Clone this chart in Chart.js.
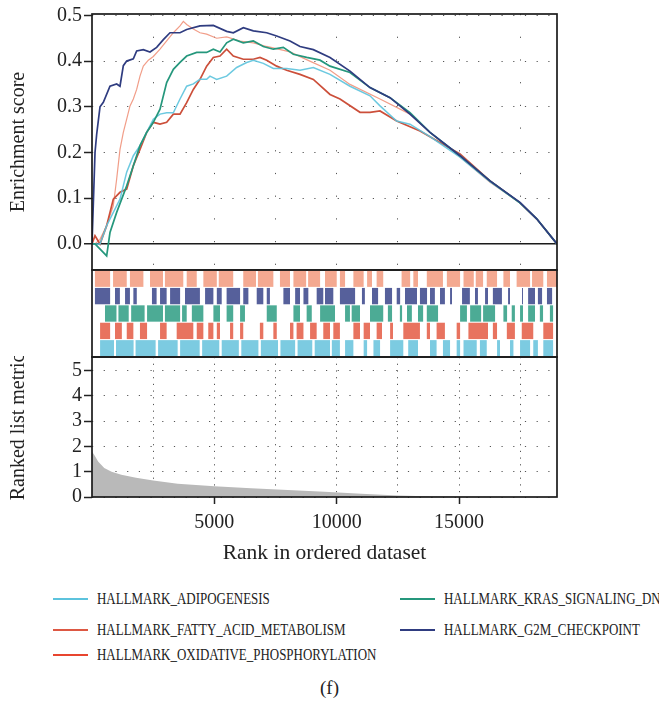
<!DOCTYPE html>
<html>
<head>
<meta charset="utf-8">
<script src="https://cdn.jsdelivr.net/npm/chart.js@4.4.1/dist/chart.umd.min.js"></script>
<style>
  html, body { margin: 0; padding: 0; background: #fff; }
  #wrap { position: relative; width: 659px; height: 706px; overflow: hidden; font-family: "Liberation Serif", serif; color: #222; }
  #wrap canvas { position: absolute; left: 0; }
  .leg { position: absolute; height: 20px; width: 300px; }
  .leg .ln { position: absolute; left: 0; top: 9px; width: 35px; height: 2px; }
  .leg .tx { position: absolute; left: 44px; top: 0; font-size: 16px; line-height: 20px; white-space: nowrap; transform: scaleX(0.81); transform-origin: left center; }
  #cap { position: absolute; left: 0; width: 659px; top: 677px; text-align: center; font-size: 19px; }
</style>
</head>
<body>
<div id="wrap">
  <canvas id="es" width="659" height="272" style="top:0"></canvas>
  <canvas id="rug" width="659" height="90" style="top:269px"></canvas>
  <canvas id="metric" width="659" height="221" style="top:356px"></canvas>
  <div id="legend"></div>
  <div id="cap">(f)</div>
</div>
<script>
// gene sets (legend order)
const geneSets = ["HALLMARK_ADIPOGENESIS", "HALLMARK_FATTY_ACID_METABOLISM", "HALLMARK_OXIDATIVE_PHOSPHORYLATION", "HALLMARK_KRAS_SIGNALING_DN", "HALLMARK_G2M_CHECKPOINT"];
const setColors = ["#5cc3dd", "#dd5843", "#e8452f", "#25977c", "#2f3c80"];

// running enrichment score, rank vs ES
const adipoRank = [0, 327, 599, 871, 1144, 1417, 1689, 1961, 2234, 2506, 2779, 3051, 3324, 3596, 3868, 4140, 4413, 4685, 4821, 5094, 5502, 5911, 6320, 6592, 7000, 7409, 7954, 8499, 9044, 9725, 10542, 11359, 11768, 12449, 12993, 13811, 15036, 16262, 17488, 18170, 19000];
const adipoES = [0, 0, 0.04, 0.069, 0.098, 0.157, 0.193, 0.215, 0.244, 0.273, 0.284, 0.287, 0.287, 0.317, 0.345, 0.35, 0.36, 0.36, 0.367, 0.36, 0.367, 0.386, 0.397, 0.402, 0.395, 0.384, 0.384, 0.38, 0.386, 0.371, 0.345, 0.324, 0.302, 0.269, 0.262, 0.235, 0.19, 0.136, 0.09, 0.055, 0];

const fattyRank = [0, 123, 327, 599, 871, 1144, 1417, 1689, 1961, 2234, 2506, 2779, 3051, 3324, 3596, 3868, 4140, 4413, 4685, 4957, 5230, 5502, 5774, 6183, 6592, 6864, 7137, 7546, 7954, 8499, 9044, 9725, 10133, 10950, 11359, 11768, 12449, 13402, 14219, 15036, 16262, 17488, 18170, 19000];
const fattyES = [0, 0.018, 0, 0.04, 0.098, 0.113, 0.12, 0.171, 0.207, 0.244, 0.266, 0.262, 0.266, 0.284, 0.284, 0.309, 0.338, 0.36, 0.389, 0.408, 0.411, 0.426, 0.411, 0.404, 0.404, 0.408, 0.402, 0.389, 0.38, 0.371, 0.36, 0.327, 0.317, 0.288, 0.288, 0.291, 0.269, 0.247, 0.222, 0.197, 0.138, 0.09, 0.055, 0];

const oxphosRank = [0, 123, 327, 599, 871, 1008, 1144, 1280, 1417, 1553, 1689, 1825, 1961, 2097, 2302, 2506, 2779, 3051, 3324, 3596, 3732, 3868, 4140, 4413, 4685, 5094, 5502, 6047, 6592, 7137, 8090, 8900, 9725, 10542, 11768, 12993, 13811, 15036, 16262, 17488, 18170, 19000];
const oxphosES = [0, 0, 0.01, 0.04, 0.084, 0.142, 0.207, 0.244, 0.273, 0.302, 0.317, 0.338, 0.367, 0.389, 0.402, 0.41, 0.426, 0.444, 0.462, 0.477, 0.487, 0.48, 0.47, 0.462, 0.459, 0.45, 0.453, 0.444, 0.44, 0.432, 0.42, 0.4, 0.38, 0.349, 0.317, 0.284, 0.244, 0.19, 0.135, 0.09, 0.055, 0];

const krasRank = [0, 123, 599, 735, 1008, 1417, 1689, 1961, 2234, 2506, 2779, 3051, 3324, 3596, 3868, 4277, 4685, 4957, 5230, 5502, 5774, 6183, 6592, 7000, 7409, 7818, 8227, 8772, 9316, 9725, 10542, 11359, 12176, 12993, 13811, 15036, 16262, 17488, 18170, 19000];
const krasES = [0, 0, -0.026, 0.025, 0.069, 0.127, 0.171, 0.215, 0.244, 0.266, 0.295, 0.353, 0.382, 0.397, 0.411, 0.419, 0.419, 0.426, 0.42, 0.44, 0.448, 0.44, 0.444, 0.432, 0.426, 0.43, 0.415, 0.408, 0.402, 0.389, 0.375, 0.342, 0.32, 0.287, 0.244, 0.193, 0.138, 0.09, 0.055, 0];

const g2mRank = [0, 123, 191, 327, 463, 735, 1008, 1144, 1280, 1417, 1689, 1825, 2097, 2370, 2642, 2915, 3187, 3596, 3868, 4413, 4957, 5502, 5774, 6183, 6592, 7137, 7546, 8090, 8499, 9044, 9725, 10542, 11359, 12176, 12993, 13811, 15036, 16262, 17488, 18170, 19000];
const g2mES = [0, 0.2, 0.24, 0.3, 0.31, 0.345, 0.35, 0.345, 0.39, 0.4, 0.405, 0.422, 0.425, 0.42, 0.43, 0.447, 0.462, 0.462, 0.469, 0.477, 0.478, 0.465, 0.462, 0.473, 0.466, 0.462, 0.455, 0.444, 0.432, 0.425, 0.408, 0.378, 0.342, 0.32, 0.284, 0.244, 0.193, 0.138, 0.091, 0.055, 0];

// gene hits, rank ranges per row (top to bottom)
const rugOxphos = [[120, 740], [860, 1420], [1550, 2100], [2370, 2900], [2980, 3730], [3870, 4280], [4550, 5100], [5180, 5770], [6180, 6700], [6780, 7410], [7680, 8090], [8230, 8750], [8830, 9320], [9520, 10000], [10130, 10340], [10680, 11100], [11240, 11440], [11630, 11900], [12650, 13000], [13130, 13320], [13680, 14340], [14500, 15040], [15180, 15600], [15680, 15980], [16130, 16550], [16810, 17080], [17350, 17900], [17980, 18440], [18590, 19000]];
const rugG2M = [[120, 740], [940, 1140], [1350, 1550], [1690, 1830], [2450, 2640], [2780, 3050], [3190, 3600], [3800, 4410], [4620, 4960], [5100, 5300], [5500, 6050], [6180, 6390], [6730, 7000], [7140, 7270], [7820, 8090], [8300, 8500], [8640, 8840], [9180, 9450], [9520, 9860], [10130, 10750], [11030, 11150], [11440, 11690], [11970, 12260], [12450, 12590], [12790, 13280], [13400, 13690], [13810, 14010], [14220, 14420], [14630, 14710], [15120, 15440], [15650, 15770], [16060, 16180], [16380, 16750], [17000, 17080], [17570, 17610], [17820, 18100], [18220, 18390], [18590, 18800]];
const rugKras = [[530, 1000], [1080, 1500], [1600, 2150], [2250, 2900], [2980, 3600], [3680, 3870], [4080, 4550], [4960, 5230], [5500, 5770], [6050, 6250], [7140, 7550], [8230, 8500], [8770, 8980], [9320, 9930], [10340, 10540], [10610, 10950], [11360, 11900], [12090, 12260], [12580, 12670], [12870, 13070], [13320, 13530], [13680, 14140], [15040, 15320], [15450, 15900], [15980, 16470], [16810, 16960], [17150, 17280], [17490, 17610], [17820, 18100], [18300, 18430], [18710, 18840]];
const rugFatty = [[330, 740], [940, 1220], [1420, 1690], [1960, 2250], [2780, 3050], [3460, 4140], [4280, 4550], [4750, 4960], [5100, 5230], [5640, 5770], [6050, 6180], [6860, 7000], [7410, 7550], [8090, 8230], [8360, 8640], [8910, 9180], [9450, 9725], [9860, 10130], [10680, 10950], [11100, 11360], [11630, 11850], [12180, 12300], [12720, 13400], [13680, 13810], [14080, 14420], [14900, 15040], [15380, 16180], [16380, 16550], [16950, 17280], [17560, 18030], [18440, 18840]];
const rugAdipo = [[330, 900], [980, 1700], [1780, 2600], [2700, 3500], [3600, 4400], [4500, 5200], [5300, 6000], [6100, 6800], [6900, 7600], [7700, 8300], [8400, 9000], [9100, 9725], [9800, 10130], [10340, 10680], [11100, 11240], [11500, 11770], [12180, 12720], [12920, 13320], [13810, 14080], [14340, 14630], [14900, 15040], [15180, 15720], [15850, 16130], [16550, 16670], [17080, 17220], [17490, 17900], [18030, 18220], [18440, 18840]];

// ranked list metric
const metricRank = [0, 100, 250, 500, 800, 1200, 1800, 2500, 3500, 5000, 6500, 8000, 9500, 11000, 12500, 14000, 15500, 17000, 19000];
const metricValue = [1.8, 1.65, 1.4, 1.15, 1.0, 0.88, 0.76, 0.65, 0.52, 0.42, 0.35, 0.28, 0.21, 0.13, 0.06, 0.02, 0.005, 0, 0];

// axis ticks
const rankGrid = [2500, 5000, 7500, 10000, 12500, 15000, 17500];
const rankLabels = [5000, 10000, 15000];
const esGrid = [0, 0.05, 0.1, 0.15, 0.2, 0.25, 0.3, 0.35, 0.4, 0.45, 0.5];
const metricGrid = [0, 0.5, 1, 1.5, 2, 2.5, 3, 3.5, 4, 4.5, 5];

const xMax = 19000;
const ink = "#222";
const dotColor = "#555";
const clear = "rgba(0,0,0,0)";

Chart.defaults.font.family = '"Liberation Serif", serif';
Chart.defaults.color = ink;

const framePlugin = {
    id: "frame",
    afterDraw(chart) {
        const a = chart.chartArea;
        const c = chart.ctx;
        c.save();
        c.strokeStyle = "#1b1b1b";
        c.lineWidth = 1.7;
        c.strokeRect(a.left, a.top, a.right - a.left, a.bottom - a.top);
        c.restore();
    }
};

function fixY(s) { s.width = 92; s.paddingTop = 0; s.paddingBottom = 0; }
function isWhole(v, step) { return Math.abs(v / step - Math.round(v / step)) < 1e-6; }
function pts(xs, ys) { return xs.map((x, i) => ({ x: x, y: ys[i] })); }

// top panel: running enrichment score
const esLines = [
    { data: pts(g2mRank, g2mES), color: setColors[4], width: 1.7 },
    { data: pts(krasRank, krasES), color: setColors[3], width: 1.7 },
    { data: pts(adipoRank, adipoES), color: "rgba(92,195,221,0.9)", width: 1.5 },
    { data: pts(fattyRank, fattyES), color: "#cc4f3a", width: 1.7 },
    { data: pts(oxphosRank, oxphosES), color: "rgba(238,140,115,0.85)", width: 1.2 }
];

new Chart(document.getElementById("es"), {
    type: "line",
    data: {
        datasets: esLines.map(l => ({
            data: l.data,
            borderColor: l.color,
            borderWidth: l.width,
            pointRadius: 0,
            tension: 0,
            fill: false
        }))
    },
    options: {
        responsive: false,
        animation: false,
        layout: { padding: { left: 0, right: 102, top: 14, bottom: 2 } },
        plugins: { legend: { display: false }, tooltip: { enabled: false } },
        scales: {
            x: {
                type: "linear", min: 0, max: xMax,
                afterBuildTicks: s => { s.ticks = rankGrid.map(v => ({ value: v })); },
                afterFit: s => { s.height = 0; s.paddingLeft = 0; s.paddingRight = 0; },
                ticks: { display: false },
                grid: { color: dotColor, drawTicks: false },
                border: { display: false, dash: [1.2, 21.5] }
            },
            y: {
                min: -0.057, max: 0.503,
                afterBuildTicks: s => { s.ticks = esGrid.map(v => ({ value: v })); },
                afterFit: fixY,
                ticks: {
                    padding: 2, font: { size: 20 }, color: ink,
                    callback: v => isWhole(v, 0.1) ? v.toFixed(1) : ""
                },
                grid: {
                    color: c => (c.tick && c.tick.value === 0) ? "#1b1b1b" : dotColor,
                    lineWidth: c => (c.tick && c.tick.value === 0) ? 1.5 : 1,
                    tickLength: 8,
                    tickWidth: 1.5,
                    tickColor: c => (c.tick && isWhole(c.tick.value, 0.1)) ? ink : clear
                },
                border: { display: false, dash: c => (c.tick && c.tick.value === 0) ? [] : [1.2, 10.5] },
                title: { display: true, text: "Enrichment score", font: { size: 20 }, color: ink, padding: { top: 7, bottom: 0 } }
            }
        }
    },
    plugins: [framePlugin]
});

// middle panel: hit positions
const rugRows = ["oxphos", "g2m", "kras", "fatty", "adipo"];
const rugHits = [rugOxphos, rugG2M, rugKras, rugFatty, rugAdipo];
const rugColors = ["rgba(240,140,108,0.75)", "rgba(44,56,130,0.8)", "rgba(31,150,122,0.8)", "rgba(226,80,55,0.8)", "rgba(80,185,215,0.75)"];

new Chart(document.getElementById("rug"), {
    type: "bar",
    data: {
        labels: rugRows,
        datasets: rugHits.map((hits, i) => ({
            data: hits.map(h => ({ x: h, y: rugRows[i] })),
            backgroundColor: rugColors[i],
            borderWidth: 0,
            grouped: false,
            categoryPercentage: 1,
            barPercentage: 0.94
        }))
    },
    options: {
        indexAxis: "y",
        responsive: false,
        animation: false,
        layout: { padding: { left: 0, right: 102, top: 1, bottom: 2 } },
        plugins: { legend: { display: false }, tooltip: { enabled: false } },
        scales: {
            x: { type: "linear", min: 0, max: xMax, display: false },
            y: {
                type: "category",
                afterFit: fixY,
                ticks: { display: false },
                grid: { display: false },
                border: { display: false }
            }
        }
    },
    plugins: [framePlugin]
});

// bottom panel: ranked list metric
new Chart(document.getElementById("metric"), {
    type: "line",
    data: {
        datasets: [{
            data: pts(metricRank, metricValue),
            fill: "origin",
            backgroundColor: "#b9b9b9",
            borderWidth: 0,
            pointRadius: 0,
            tension: 0
        }]
    },
    options: {
        responsive: false,
        animation: false,
        layout: { padding: { left: 0, right: 102, top: 1, bottom: 0 } },
        plugins: { legend: { display: false }, tooltip: { enabled: false } },
        scales: {
            x: {
                type: "linear", min: 0, max: xMax,
                afterBuildTicks: s => { s.ticks = rankGrid.map(v => ({ value: v })); },
                afterFit: s => { s.height = 80; s.paddingLeft = 0; s.paddingRight = 0; },
                ticks: {
                    padding: 7, font: { size: 20 }, color: ink, maxRotation: 0, autoSkip: false,
                    callback: v => rankLabels.includes(v) ? String(v) : ""
                },
                grid: {
                    color: dotColor,
                    tickLength: 7,
                    tickWidth: 1.5,
                    tickColor: c => (c.tick && rankLabels.includes(c.tick.value)) ? ink : clear
                },
                border: { display: false, dash: [1.2, 5.5] },
                title: { display: true, text: "Rank in ordered dataset", font: { size: 21.5 }, color: ink, padding: { top: 0, bottom: 11 } }
            },
            y: {
                min: 0, max: 5.53,
                afterBuildTicks: s => { s.ticks = metricGrid.map(v => ({ value: v })); },
                afterFit: fixY,
                ticks: {
                    padding: 2, font: { size: 20 }, color: ink,
                    callback: v => isWhole(v, 1) ? String(v) : ""
                },
                grid: {
                    color: dotColor,
                    tickLength: 8,
                    tickWidth: 1.5,
                    tickColor: c => (c.tick && isWhole(c.tick.value, 1)) ? ink : clear
                },
                border: { display: false, dash: [1.2, 10.5] },
                title: { display: true, text: "Ranked list metric", font: { size: 20 }, color: ink, padding: { top: 7, bottom: 0 } }
            }
        }
    },
    plugins: [framePlugin]
});

// legend, filled by column like the original
const legendPos = [[53, 589], [53, 620], [53, 645], [400, 589], [400, 620]];
const legendBox = document.getElementById("legend");
geneSets.forEach((name, i) => {
    const item = document.createElement("div");
    item.className = "leg";
    item.style.left = legendPos[i][0] + "px";
    item.style.top = legendPos[i][1] + "px";
    item.innerHTML = '<div class="ln" style="background:' + setColors[i] + '"></div><div class="tx">' + name + "</div>";
    legendBox.appendChild(item);
});
</script>
</body>
</html>
